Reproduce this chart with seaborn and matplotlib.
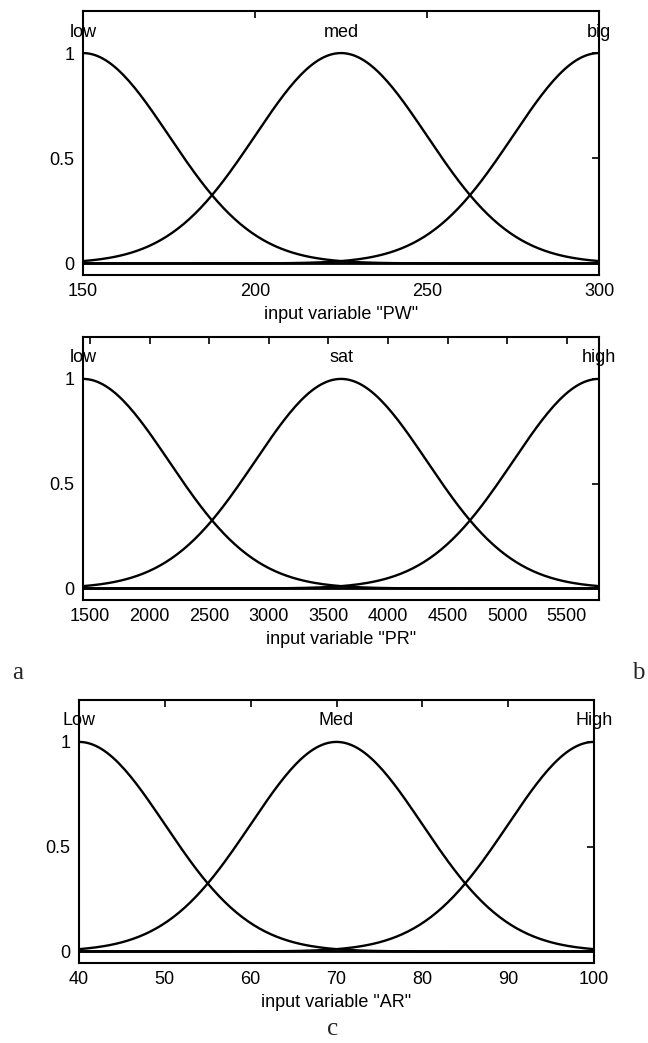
import numpy as np
import pandas as pd
import matplotlib
matplotlib.use("Agg")
import matplotlib.pyplot as plt
import seaborn as sns

# ---- data (membership-function parameters) ----
pw_range = [150, 300]
pw_names = ["low", "med", "big"]
pw_centers = [150, 225, 300]
pw_sigmas = [25, 25, 25]
pw_ticks = [150, 200, 250, 300]

pr_range = [1440, 5770]
pr_names = ["low", "sat", "high"]
pr_centers = [1440, 3605, 5770]
pr_sigmas = [722, 722, 722]
pr_ticks = [1500, 2000, 2500, 3000, 3500, 4000, 4500, 5000, 5500]

ar_range = [40, 100]
ar_names = ["Low", "Med", "High"]
ar_centers = [40, 70, 100]
ar_sigmas = [10, 10, 10]
ar_ticks = [40, 50, 60, 70, 80, 90, 100]

y_ticks = [0, 0.5, 1]
y_ticklabels = ["0", "0.5", "1"]

sns.set_theme(style="white")
plt.rcParams["font.family"] = ["Liberation Sans", "DejaVu Sans"]

W, H = 648, 1043
fig = plt.figure(figsize=(W / 100, H / 100), dpi=100)
FS = 13


def add_axes(left, right, top, bottom):
    return fig.add_axes([left / W, 1 - bottom / H, (right - left) / W, (bottom - top) / H])


def draw(ax, rng, names, centers, sigmas, ticks, xlabel):
    x = np.linspace(rng[0], rng[1], 181)
    rows = []
    for n, c, s in zip(names, centers, sigmas):
        y = np.exp(-((x - c) ** 2) / (2 * s ** 2))
        rows.append(pd.DataFrame({"x": x, "y": y, "mf": n}))
    df = pd.concat(rows, ignore_index=True)
    sns.lineplot(data=df, x="x", y="y", units="mf", estimator=None,
                 color="black", linewidth=1.7, ax=ax, legend=False)
    ax.axhline(0, color="black", linewidth=2.0)
    for n, c in zip(names, centers):
        ax.text(c, 1.1, n, ha="center", va="center", fontsize=FS, color="black")
    ax.set_xlim(rng[0], rng[1])
    ax.set_ylim(-0.055, 1.2)
    ax.set_xticks(ticks)
    ax.set_xticklabels([str(t) for t in ticks])
    ax.set_yticks(y_ticks)
    ax.set_yticklabels(y_ticklabels)
    ax.tick_params(direction="in", length=5, width=1.2, top=True, right=True,
                   labelsize=FS, colors="black", pad=6)
    ax.set_xlabel(xlabel, fontsize=FS, color="black", labelpad=4)
    ax.set_ylabel("")
    for sp in ax.spines.values():
        sp.set_color("black")
        sp.set_linewidth(1.5)
        sp.set_visible(True)
    ax.set_facecolor("white")


ax1 = add_axes(83, 599, 11, 275)
draw(ax1, pw_range, pw_names, pw_centers, pw_sigmas, pw_ticks, 'input variable "PW"')

ax2 = add_axes(83, 599, 337, 600)
draw(ax2, pr_range, pr_names, pr_centers, pr_sigmas, pr_ticks, 'input variable "PR"')

ax3 = add_axes(79, 594, 700, 963)
draw(ax3, ar_range, ar_names, ar_centers, ar_sigmas, ar_ticks, 'input variable "AR"')

serif = ["Liberation Serif", "DejaVu Serif"]
fig.text(18 / W, 1 - 673 / H, "a", fontsize=18, family=serif, ha="center", va="center")
fig.text(638 / W, 1 - 673 / H, "b", fontsize=18, family=serif, ha="center", va="center")
fig.text(333 / W, 1 - 1029 / H, "c", fontsize=18, family=serif, ha="center", va="center")

fig.savefig("out.png", dpi=100, facecolor="white")
